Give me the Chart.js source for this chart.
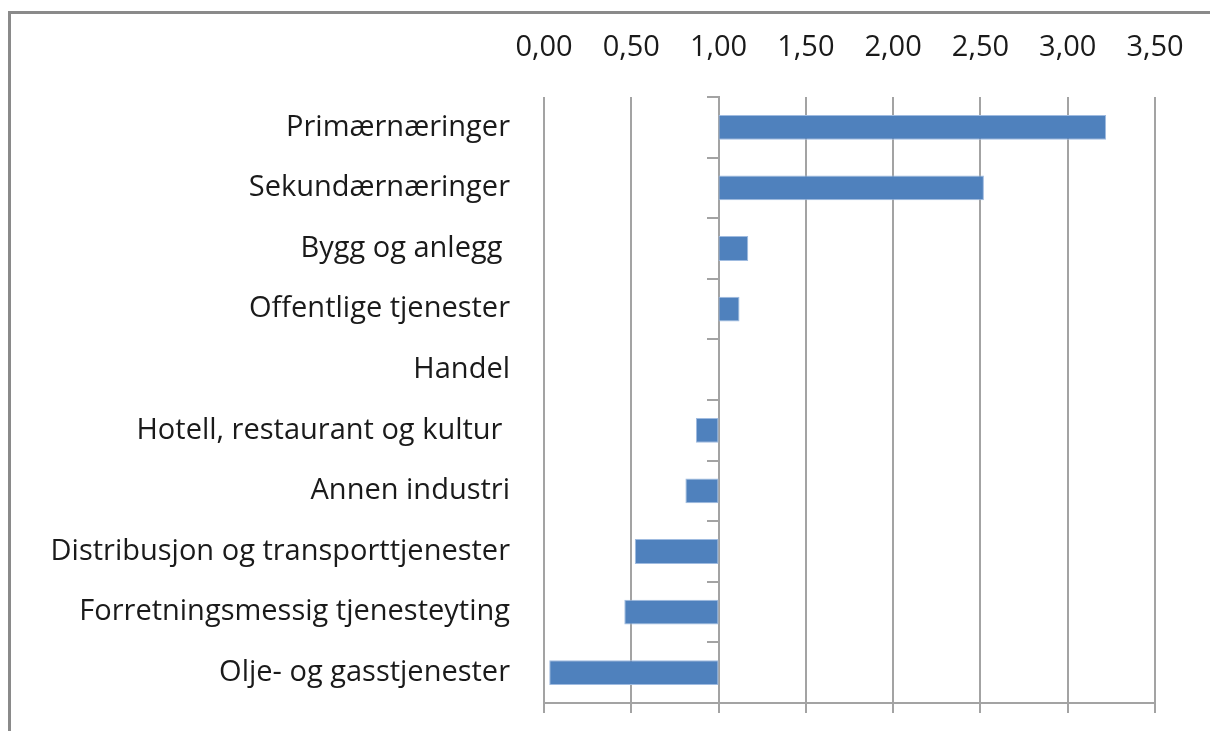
<!DOCTYPE html>
<html>
<head>
<meta charset="utf-8">
<script src="https://cdn.jsdelivr.net/npm/chart.js@4.4.1/dist/chart.umd.min.js"></script>
<style>
  html, body { margin: 0; padding: 0; background: #fff; }
  #wrap { position: relative; width: 1210px; height: 731px; overflow: hidden; }
  #frame { position: absolute; left: 8px; top: 11px; right: -10px; bottom: -10px;
           border-top: 3px solid #8a8a8a; border-left: 3px solid #8a8a8a; }
  canvas { position: absolute; left: 0; top: 0; }
</style>
</head>
<body>
<div id="wrap">
  <div id="frame"></div>
  <canvas id="chart" width="1210" height="731"></canvas>
</div>
<script>
// categories top to bottom
const categories = [
    'Primærnæringer',
    'Sekundærnæringer',
    'Bygg og anlegg ',
    'Offentlige tjenester',
    'Handel',
    'Hotell, restaurant og kultur ',
    'Annen industri',
    'Distribusjon og transporttjenester',
    'Forretningsmessig tjenesteyting',
    'Olje- og gasstjenester'
];
const values = [3.22, 2.52, 1.17, 1.12, 1.00, 0.87, 0.81, 0.52, 0.46, 0.03];
const baseline = 1.0;
const axisMin = 0;
const axisMax = 3.5;
const axisStep = 0.5;

const labelFont = { family: '"Open Sans", sans-serif', size: 29 };
const gridColor = '#a3a3a3';

const fmt = v => Number(v).toFixed(2).replace('.', ',');

const ctx = document.getElementById('chart').getContext('2d');
new Chart(ctx, {
    type: 'bar',
    data: {
        labels: categories,
        datasets: [{
            data: values.map(v => [baseline, v]),
            backgroundColor: '#4f81bd',
            borderColor: '#9fbbe0',
            borderWidth: 1,
            borderSkipped: false,
            barPercentage: 0.41,
            categoryPercentage: 1
        }]
    },
    options: {
        indexAxis: 'y',
        responsive: false,
        animation: false,
        layout: { padding: { left: 0, right: 55, top: 0, bottom: 0 } },
        plugins: { legend: { display: false }, tooltip: { enabled: false } },
        scales: {
            x: {
                position: 'top',
                min: axisMin,
                max: axisMax,
                ticks: { stepSize: axisStep, callback: fmt, color: '#1a1a1a', font: labelFont, padding: 32 },
                grid: { color: gridColor, lineWidth: 2, drawTicks: false },
                border: { display: false },
                afterFit: s => { s.height = 97; s.paddingLeft = 0; s.paddingRight = 0; }
            },
            x2: {
                position: 'bottom',
                type: 'linear',
                min: axisMin,
                max: axisMax,
                ticks: { stepSize: axisStep, display: false },
                grid: { color: gridColor, lineWidth: 2, drawOnChartArea: false, tickLength: 10 },
                border: { display: true, color: gridColor, width: 2 },
                afterFit: s => { s.height = 28; }
            },
            y: {
                position: 'left',
                ticks: { color: '#1a1a1a', font: labelFont, padding: 34 },
                grid: { display: false, drawTicks: false },
                border: { display: false },
                afterFit: s => { s.width = 544; s.paddingTop = 0; s.paddingBottom = 0; }
            },
            y2: {
                type: 'category',
                labels: categories,
                position: { x: baseline },
                offset: true,
                ticks: { display: false },
                grid: { offset: true, color: gridColor, lineWidth: 2, drawOnChartArea: false, tickLength: 11 },
                border: { display: true, color: gridColor, width: 2 }
            }
        }
    }
});
</script>
</body>
</html>
